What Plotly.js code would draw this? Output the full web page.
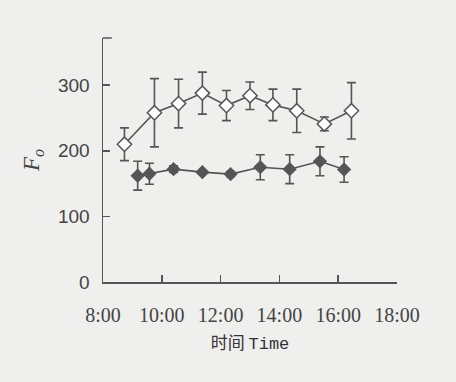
<!DOCTYPE html>
<html>
<head>
<meta charset="utf-8">
<script src="https://cdn.plot.ly/plotly-3.0.1.min.js"></script>
<style>html,body{margin:0;padding:0;background:#efefed;}#chart{width:456px;height:382px;}</style>
</head>
<body>
<div id="chart"></div>
<script>
// Times in decimal hours
const openTimes = [8.73, 9.75, 10.57, 11.38, 12.2, 13.0, 13.78, 14.59, 15.53, 16.45];
const openValues = [210, 258, 272, 288, 269, 284, 270, 261, 241, 261];
const openErrors = [25, 52, 37, 32, 23, 21, 24, 33, 10.5, 43];

const filledTimes = [9.18, 9.58, 10.4, 11.38, 12.34, 13.35, 14.35, 15.38, 16.2];
const filledValues = [162, 165, 172, 167.5, 164.5, 175, 172, 184, 171.5];
const filledErrors = [22, 16, 5, 2, 4, 19, 22, 22, 19.5];

const xTickVals = [8, 10, 12, 14, 16, 18];
const xTickText = ["8:00", "10:00", "12:00", "14:00", "16:00", "18:00"];
const yTickVals = [0, 100, 200, 300];

const ink = "#555555";

const traces = [
  {
    x: openTimes, y: openValues, type: "scatter", mode: "lines+markers",
    line: {color: ink, width: 1.6},
    marker: {symbol: "diamond", size: 11, color: "#ffffff", line: {color: ink, width: 1.5}},
    error_y: {type: "data", array: openErrors, visible: true, color: ink, thickness: 1.6, width: 4.5},
    showlegend: false, cliponaxis: false
  },
  {
    x: filledTimes, y: filledValues, type: "scatter", mode: "lines+markers",
    line: {color: ink, width: 1.6},
    marker: {symbol: "diamond", size: 11, color: ink},
    error_y: {type: "data", array: filledErrors, visible: true, color: ink, thickness: 1.6, width: 4.5},
    showlegend: false, cliponaxis: false
  }
];

const layout = {
  width: 456, height: 382,
  paper_bgcolor: "#efefed", plot_bgcolor: "#efefed",
  margin: {l: 103, r: 59, t: 38, b: 100},
  xaxis: {
    range: [8, 18], tickvals: xTickVals, ticktext: xTickText,
    showgrid: false, zeroline: false, showline: true, linecolor: ink, linewidth: 1.5,
    ticks: "inside", ticklen: 7, tickwidth: 1.5, tickcolor: ink,
    ticklabelstandoff: 14,
    tickfont: {family: "Liberation Serif", size: 20, color: "#444"},
    title: {text: "时间 <span style='font-family:Liberation Mono'>Time</span>", standoff: 12,
            font: {family: "Noto Sans CJK SC", size: 17, color: "#333"}}
  },
  yaxis: {
    range: [0, 372], tickvals: yTickVals,
    showgrid: false, zeroline: false, showline: true, linecolor: ink, linewidth: 1.5,
    ticks: "inside", ticklen: 7, tickwidth: 1.5, tickcolor: ink,
    ticklabelstandoff: 8,
    tickfont: {family: "Liberation Sans", size: 19, color: "#444"},
    title: {text: "<i>F<sub>o</sub></i>", standoff: 12,
            font: {family: "Liberation Serif", size: 23, color: "#444"}}
  },
  shapes: [
    {type: "line", xref: "x", yref: "paper", x0: 8, x1: 8.3, y0: 1, y1: 1, line: {color: ink, width: 1.5}}
  ]
};

Plotly.newPlot("chart", traces, layout, {displayModeBar: false, staticPlot: true});
</script>
</body>
</html>
